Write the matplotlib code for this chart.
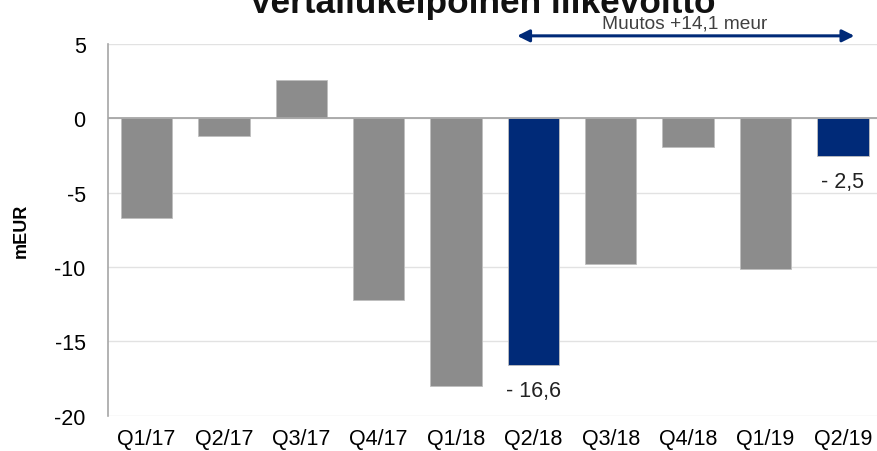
import matplotlib
matplotlib.use("Agg")
import matplotlib.pyplot as plt

plt.rcParams["font.family"] = ["Liberation Sans", "DejaVu Sans"]
plt.rcParams["axes.unicode_minus"] = False

quarters = ["Q1/17", "Q2/17", "Q3/17", "Q4/17", "Q1/18",
            "Q2/18", "Q3/18", "Q4/18", "Q1/19", "Q2/19"]
values = [-6.7, -1.2, 2.6, -12.2, -18.0, -16.6, -9.8, -1.9, -10.1, -2.5]
highlight = ["Q2/18", "Q2/19"]
labels = {"Q2/18": "- 16,6", "Q2/19": "- 2,5"}
change_text = "Muutos +14,1 meur"

GRAY = "#8C8C8C"
NAVY = "#002A78"

fig = plt.figure(figsize=(8.77, 4.52), dpi=100)
ax = fig.add_axes([0.1231, 0.0781, 0.882, 0.8223])

x = list(range(len(quarters)))
colors = [NAVY if q in highlight else GRAY for q in quarters]
ax.bar(x, values, width=0.665, color=colors, edgecolor="#BFBFBF",
       linewidth=0.6, zorder=3)

ax.set_xlim(-0.5, len(quarters) - 0.5)
ax.set_ylim(-20, 5)
ax.set_yticks([5, 0, -5, -10, -15, -20])
ax.set_xticks(x)
ax.set_xticklabels(quarters)
ax.tick_params(axis="y", length=0, pad=16, labelsize=15.5)
ax.tick_params(axis="x", length=0, pad=9, labelsize=15.5)
ax.grid(axis="y", color="#E2E2E2", linewidth=1, zorder=0)
ax.axhline(0, color="#A6A6A6", linewidth=1.3, zorder=4)

for s in ["top", "right", "bottom"]:
    ax.spines[s].set_visible(False)
ax.spines["left"].set_color("#A6A6A6")
ax.spines["left"].set_linewidth(1.2)

ax.set_ylabel("mEUR", fontsize=13, fontweight="bold")
ax.yaxis.set_label_coords(-0.101, 0.5)

for i, q in enumerate(quarters):
    if q in labels:
        ax.annotate(labels[q], xy=(i, values[i]), xytext=(0, -18.5),
                    textcoords="offset points", ha="center", va="center",
                    fontsize=15.5, color="#222222")

# change arrow between Q2/18 and Q2/19
ax.annotate("", xy=(9.15, 5.55), xytext=(4.79, 5.55),
            arrowprops=dict(arrowstyle="<|-|>", color=NAVY, lw=2.2,
                            mutation_scale=18, shrinkA=0, shrinkB=0),
            annotation_clip=False)
ax.text(6.95, 6.4, change_text, ha="center", va="center", fontsize=13.8,
        color="#404040", clip_on=False,
        family=["Liberation Sans Narrow", "Liberation Sans", "DejaVu Sans"])

fig.text(0.55, 0.972, "Vertailukelpoinen liikevoitto", ha="center",
         va="baseline", fontsize=25.4, fontweight="bold", color="#111111")

fig.savefig("out.png", dpi=100)
